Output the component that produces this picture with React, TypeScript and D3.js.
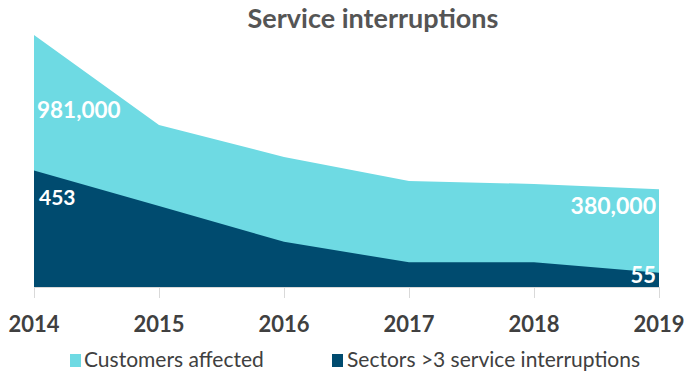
import React from "react";
import * as d3 from "d3";

const years = ["2014", "2015", "2016", "2017", "2018", "2019"];
const customersAffected = [981000, 630000, 506000, 412000, 401000, 380000];
const sectorsOver3 = [453, 315, 176, 96, 96, 55];
const legendLabels = ["Customers affected", "Sectors >3 service interruptions"];
const valueLabels = { firstCustomers: "981,000", lastCustomers: "380,000", firstSectors: "453", lastSectors: "55" };

const W = 700;
const H = 381;
const CYAN = "#6EDAE3";
const NAVY = "#004B6F";
const FONT = "Lato, 'Open Sans', sans-serif";

export default function App() {
  const x = d3.scalePoint<string>().domain(years).range([34, 659]);
  const yC = d3.scaleLinear().domain([0, 1000000]).range([287, 30]);
  const yS = d3.scaleLinear().domain([0, 1000]).range([287, 30]);

  const areaC = d3
    .area<number>()
    .x((_, i) => x(years[i]) as number)
    .y0(yC(0))
    .y1((d) => yC(d));
  const areaS = d3
    .area<number>()
    .x((_, i) => x(years[i]) as number)
    .y0(yS(0))
    .y1((d) => yS(d));

  const last = years.length - 1;

  return (
    <svg
      width={W}
      height={H}
      style={{ position: "absolute", left: 0, top: 0, background: "#fff" }}
      fontFamily={FONT}
    >
      <text x={373} y={28} textAnchor="middle" fontSize={27} fontWeight={700} fill="#555555">
        Service interruptions
      </text>
      <path d={areaC(customersAffected) || ""} fill={CYAN} />
      <path d={areaS(sectorsOver3) || ""} fill={NAVY} />
      <line x1={x(years[0])} x2={x(years[last])} y1={287.5} y2={287.5} stroke="#d9d9d9" />
      {years.map((yr) => (
        <line
          key={yr}
          x1={(x(yr) as number) + 0.5}
          x2={(x(yr) as number) + 0.5}
          y1={287}
          y2={298}
          stroke="#d9d9d9"
        />
      ))}
      {years.map((yr) => (
        <text
          key={"l" + yr}
          x={x(yr)}
          y={332}
          textAnchor="middle"
          fontSize={22}
          fontWeight={700}
          fill="#404040"
        >
          {yr}
        </text>
      ))}
      <text x={(x(years[0]) as number) + 3} y={yC(customersAffected[0]) + 83} fontSize={22.5} fontWeight={700} fill="#fff">
        {valueLabels.firstCustomers}
      </text>
      <text x={(x(years[0]) as number) + 5} y={yS(sectorsOver3[0]) + 34} fontSize={21} fontWeight={700} fill="#fff">
        {valueLabels.firstSectors}
      </text>
      <text x={(x(years[last]) as number) - 3} y={yC(customersAffected[last]) + 25} textAnchor="end" fontSize={23} fontWeight={700} fill="#fff">
        {valueLabels.lastCustomers}
      </text>
      <text x={(x(years[last]) as number) - 3} y={283} textAnchor="end" fontSize={22} fontWeight={700} fill="#fff">
        {valueLabels.lastSectors}
      </text>
      <rect x={70} y={354} width={11} height={13} fill={CYAN} />
      <text x={84} y={367} fontSize={21} fill="#404040">
        {legendLabels[0]}
      </text>
      <rect x={332} y={354} width={11} height={13} fill={NAVY} />
      <text x={347} y={367} fontSize={21} fill="#404040">
        {legendLabels[1]}
      </text>
    </svg>
  );
}
